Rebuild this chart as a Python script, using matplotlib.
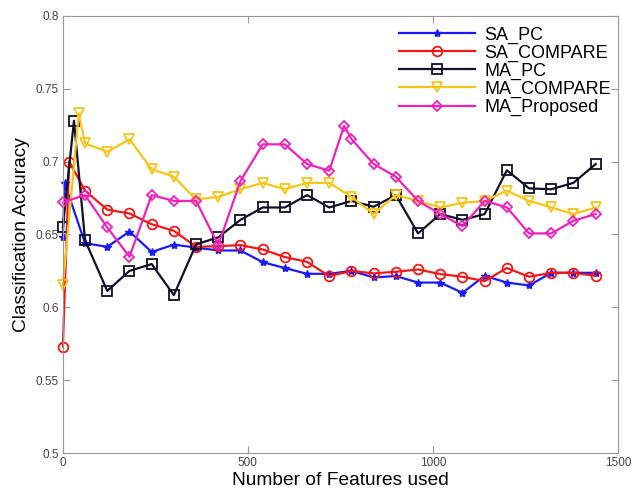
import matplotlib
matplotlib.use('Agg')
import matplotlib.pyplot as plt

plt.rcParams['font.family'] = ['Liberation Sans', 'DejaVu Sans']

# common x grid (number of features)
x_common = [60, 120, 180, 240, 300, 360, 420, 480, 540, 600, 660, 720, 780,
            840, 900, 960, 1020, 1080, 1140, 1200, 1260, 1320, 1380, 1440]

sa_pc_x = [0, 5] + x_common
sa_pc = [0.648, 0.685, 0.644, 0.6415, 0.652, 0.638, 0.643, 0.641, 0.639, 0.639,
         0.631, 0.627, 0.623, 0.623, 0.625, 0.6205, 0.6215, 0.617, 0.617,
         0.610, 0.6216, 0.617, 0.615, 0.6237, 0.6237, 0.6237]

sa_cmp_x = [0, 17] + x_common
sa_cmp = [0.573, 0.700, 0.680, 0.667, 0.6644, 0.657, 0.6525, 0.6415, 0.642,
          0.6427, 0.6397, 0.6345, 0.6312, 0.6214, 0.625, 0.6233, 0.6244, 0.626,
          0.6228, 0.621, 0.618, 0.627, 0.621, 0.6237, 0.6237, 0.6216]

ma_pc_x = [0, 30] + x_common
ma_pc = [0.655, 0.728, 0.646, 0.6113, 0.625, 0.6297, 0.6084, 0.6432, 0.648,
         0.660, 0.6685, 0.6685, 0.677, 0.6685, 0.673, 0.669, 0.677, 0.6507,
         0.664, 0.660, 0.664, 0.694, 0.6816, 0.681, 0.6854, 0.6983]

ma_cmp_x = [0, 43] + x_common
ma_cmp = [0.615, 0.733, 0.7124, 0.7067, 0.7152, 0.6948, 0.6896, 0.674, 0.6758,
          0.681, 0.6854, 0.681, 0.6854, 0.6854, 0.6758, 0.664, 0.677, 0.673,
          0.6685, 0.6717, 0.673, 0.680, 0.673, 0.6685, 0.664, 0.6685]

ma_prop_x = [0] + x_common[:12] + [760] + x_common[12:]
ma_prop = [0.672, 0.677, 0.6548, 0.6347, 0.677, 0.673, 0.673, 0.6427, 0.6866,
           0.7118, 0.7118, 0.6983, 0.6937, 0.7245, 0.7154, 0.6983, 0.6896,
           0.673, 0.664, 0.6557, 0.673, 0.6686, 0.6507, 0.6507, 0.6594, 0.664]

fig = plt.figure(figsize=(6.35, 4.91), dpi=100)
ax = fig.add_axes([0.099, 0.077, 0.874, 0.891])

lw = 1.6
ax.plot(sa_pc_x, sa_pc, color='#1a1aff', marker='*', ms=6, lw=lw,
        label='SA_PC', clip_on=False)
ax.plot(sa_cmp_x, sa_cmp, color='#f01818', marker='o', ms=7, mfc='none', mew=1.3,
        lw=lw, label='SA_COMPARE', clip_on=False)
ax.plot(ma_pc_x, ma_pc, color='#10102a', marker='s', ms=7, mfc='none', mew=1.3,
        lw=lw, label='MA_PC', clip_on=False)
ax.plot(ma_cmp_x, ma_cmp, color='#f5c518', marker='v', ms=7, mfc='none', mew=1.3,
        lw=lw, label='MA_COMPARE', clip_on=False)
ax.plot(ma_prop_x, ma_prop, color='#ee22bb', marker='D', ms=5.5, mfc='none', mew=1.3,
        lw=lw, label='MA_Proposed', clip_on=False)

ax.set_xlim(0, 1500)
ax.set_ylim(0.5, 0.8)
ax.set_xticks([0, 500, 1000, 1500])
ax.set_yticks([0.5, 0.55, 0.6, 0.65, 0.7, 0.75, 0.8])
ax.set_yticklabels(['0.5', '0.55', '0.6', '0.65', '0.7', '0.75', '0.8'])
ax.tick_params(direction='in', top=True, right=True, labelsize=8.5,
               colors='#999999', labelcolor='#444444', length=5, pad=3)
for s in ax.spines.values():
    s.set_color('#999999')

ax.set_xlabel('Number of Features used', fontsize=13.8, labelpad=2)
ax.set_ylabel('Classification Accuracy', fontsize=13.8, labelpad=4)

ax.legend(loc='upper right', frameon=False, fontsize=13, labelspacing=0.05,
          handlelength=4.2, borderaxespad=0.2, handletextpad=0.5,
          bbox_to_anchor=(1.007, 1.0))

fig.savefig('out.png', dpi=100)
